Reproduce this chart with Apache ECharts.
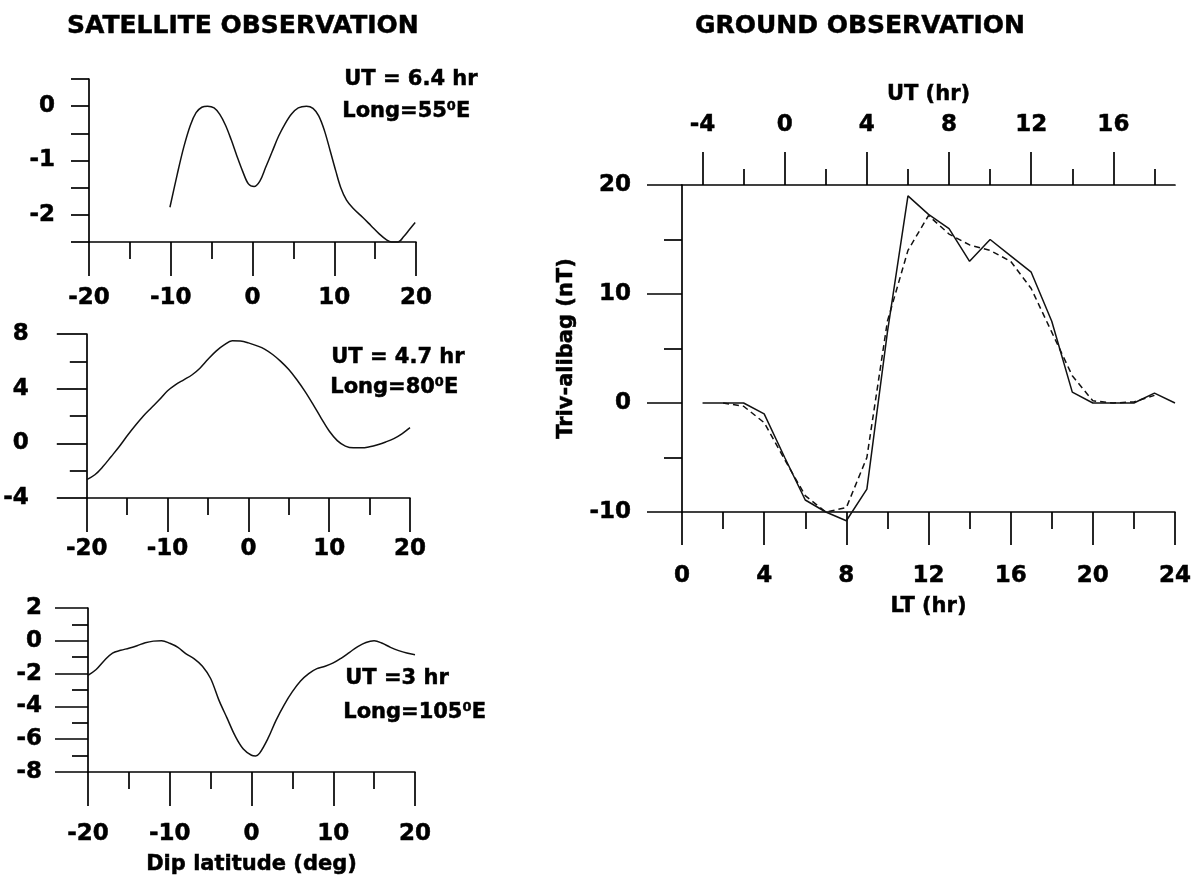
<!DOCTYPE html>
<html>
<head>
<meta charset="utf-8">
<script src="https://cdn.jsdelivr.net/npm/echarts@6/dist/echarts.min.js"></script>
<style>
  html, body { margin: 0; padding: 0; background: #fff; }
  #chart { width: 1196px; height: 883px; }
</style>
</head>
<body>
<div id="chart"></div>
<script>
// ---- Satellite observation: perturbation vs. dip latitude (deg) ----
// UT = 6.4 hr, Long = 55E
const lat55 = [-10.1, -9.2, -8.4, -7.6, -6.9, -6.2, -5.5, -4.7, -4.0, -3.3, -2.6, -1.9, -1.2, -0.5, 0.2, 0.9, 1.6, 2.4, 3.2, 4.0, 4.8, 5.6, 6.6, 7.4, 8.1, 8.8, 9.5, 10.2, 10.8, 11.5, 12.3, 13.5, 14.5, 15.5, 16.4, 17.0, 17.8, 18.5, 19.2, 19.9];
const val55 = [-1.86, -1.25, -0.75, -0.35, -0.12, -0.02, 0.0, -0.03, -0.15, -0.35, -0.62, -0.92, -1.2, -1.43, -1.48, -1.38, -1.13, -0.84, -0.55, -0.32, -0.14, -0.03, 0.0, -0.04, -0.18, -0.45, -0.82, -1.2, -1.5, -1.73, -1.88, -2.05, -2.2, -2.35, -2.46, -2.5, -2.5, -2.4, -2.27, -2.14];

// UT = 4.7 hr, Long = 80E
const lat80 = [-20, -19, -18, -17, -16, -15, -14, -13, -12, -11, -10, -9, -8, -7, -6, -5, -4, -3, -2, -1, 0, 1, 2, 3, 4, 5, 6, 7, 8, 9, 10, 11, 12, 13, 14, 15, 16, 17, 18, 19, 20];
const val80 = [-2.65, -2.3, -1.7, -0.98, -0.25, 0.55, 1.3, 2.0, 2.6, 3.2, 3.85, 4.3, 4.65, 5.0, 5.5, 6.15, 6.75, 7.2, 7.5, 7.48, 7.35, 7.15, 6.9, 6.5, 6.0, 5.4, 4.65, 3.8, 2.85, 1.85, 0.9, 0.2, -0.2, -0.33, -0.33, -0.25, -0.1, 0.1, 0.35, 0.7, 1.15];

// UT = 3 hr, Long = 105E
const lat105 = [-20, -19, -18, -17, -16, -15, -14, -13, -12, -11, -10, -9, -8, -7, -6, -5, -4, -3, -2, -1, 0, 0.5, 1, 2, 3, 4, 5, 6, 7, 8, 9, 10, 11, 12, 13, 14, 15, 16, 17, 18, 19, 20];
const val105 = [-2.1, -1.75, -1.2, -0.75, -0.58, -0.45, -0.3, -0.12, -0.02, 0.0, -0.15, -0.4, -0.8, -1.1, -1.55, -2.3, -3.6, -4.7, -5.8, -6.6, -6.98, -7.02, -6.85, -5.97, -4.85, -3.9, -3.1, -2.45, -2.0, -1.7, -1.55, -1.35, -1.05, -0.7, -0.35, -0.1, 0.0, -0.15, -0.4, -0.6, -0.75, -0.85];

// ---- Ground observation: Triv-alibag (nT) vs. LT (hr) ----
const ltSolid = [1, 2, 3, 4, 5, 6, 7, 8, 9, 10, 11, 12, 13, 14, 15, 16, 17, 18, 19, 20, 21, 22, 23, 24];
const trivSolid = [0, 0, 0, -1.0, -5.0, -8.9, -10.0, -10.8, -7.9, 6.5, 19.0, 17.3, 16.0, 13.0, 15.0, 13.5, 12.0, 7.5, 1.0, 0, 0, 0, 0.9, 0];
const ltDashed = [2, 3, 4, 5, 6, 7, 8, 9, 10, 11, 12, 13, 14, 15, 16, 17, 18, 19, 20, 21, 22, 23];
const trivDashed = [0, -0.3, -1.8, -5.2, -8.5, -10.0, -9.6, -5.0, 7.5, 14.0, 17.2, 15.5, 14.5, 14.0, 13.0, 10.5, 6.5, 2.5, 0.2, 0, 0.1, 0.7];

// Universal time on the top axis: UT = LT - 5
const utShift = 5;
const utMajor = [-4, 0, 4, 8, 12, 16];
const utMinor = [-2, 2, 6, 10, 14, 18];

const FONT = 'DejaVu Sans';
const INK = '#000';
const heavy = { textBorderColor: INK, textBorderWidth: 0.5 };
const tickText = Object.assign({ color: INK, fontFamily: FONT, fontWeight: 'bold', fontSize: 23 }, heavy);
const nameText = Object.assign({ color: INK, fontFamily: FONT, fontWeight: 'bold', fontSize: 21 }, heavy);
const titleText = Object.assign({ color: INK, fontFamily: FONT, fontWeight: 'bold', fontSize: 25 }, heavy);
const axisLine = { show: true, onZero: false, lineStyle: { color: INK, width: 1.7 } };
const tickStyle = { color: INK, width: 1.7 };

const pairs = (xs, ys) => xs.map((x, i) => [x, ys[i]]);

function latAxis(gridIndex, margin, extra) {
  return Object.assign({
    type: 'value', gridIndex, position: 'bottom',
    min: -20, max: 20, interval: 10,
    axisLine,
    axisTick: { show: true, length: 34, lineStyle: tickStyle },
    minorTick: { show: true, splitNumber: 2, length: 17, lineStyle: tickStyle },
    splitLine: { show: false }, minorSplitLine: { show: false },
    axisLabel: Object.assign({ margin }, tickText)
  }, extra || {});
}

function valAxis(gridIndex, opts) {
  return Object.assign({
    type: 'value', gridIndex, position: 'left',
    axisLine,
    splitLine: { show: false }, minorSplitLine: { show: false }
  }, opts);
}

function curve(xIdx, yIdx, xs, ys, smooth, dashed) {
  return {
    type: 'line', xAxisIndex: xIdx, yAxisIndex: yIdx,
    data: pairs(xs, ys), smooth: smooth ? 0.35 : false,
    showSymbol: false, silent: true, animation: false, clip: false,
    lineStyle: { color: '#111', width: 1.5, type: dashed ? [6, 4] : 'solid' }
  };
}

function note(left, top, text) {
  return {
    type: 'text', left, top,
    style: { text, fill: INK, font: 'bold 21px "DejaVu Sans"', stroke: INK, lineWidth: 0.5 }
  };
}

const option = {
  animation: false,
  backgroundColor: '#fff',
  title: [
    { text: 'SATELLITE OBSERVATION', left: 62, top: 9, textStyle: titleText },
    { text: 'GROUND OBSERVATION', left: 690, top: 9, textStyle: titleText }
  ],
  grid: [
    { left: 89, top: 79, width: 327, height: 163 },
    { left: 84, top: 334, width: 326, height: 164 },
    { left: 88, top: 608, width: 327, height: 164 },
    { left: 682, top: 185, width: 493, height: 327 }
  ],
  xAxis: [
    latAxis(0, 45),
    latAxis(1, 40),
    latAxis(2, 51, {
      name: 'Dip latitude (deg)', nameLocation: 'middle', nameGap: 82, nameTextStyle: nameText
    }),
    {
      type: 'value', gridIndex: 3, position: 'bottom',
      min: 0, max: 24, interval: 4,
      axisLine,
      axisTick: { show: true, length: 33, lineStyle: tickStyle },
      minorTick: { show: true, splitNumber: 2, length: 17, lineStyle: tickStyle },
      splitLine: { show: false }, minorSplitLine: { show: false },
      axisLabel: Object.assign({ margin: 53 }, tickText),
      name: 'LT (hr)', nameLocation: 'middle', nameGap: 84, nameTextStyle: nameText
    },
    {
      type: 'value', gridIndex: 3, position: 'top',
      min: 0 - utShift, max: 24 - utShift,
      axisLine,
      axisTick: { show: true, length: 33, lineStyle: tickStyle, customValues: utMajor },
      splitLine: { show: false },
      axisLabel: Object.assign({ margin: 48, customValues: utMajor }, tickText),
      name: 'UT (hr)', nameLocation: 'middle', nameGap: 80, nameTextStyle: nameText
    },
    {
      type: 'value', gridIndex: 3, position: 'top',
      min: 0 - utShift, max: 24 - utShift,
      axisLine: { show: false, onZero: false },
      axisTick: { show: true, length: 16, lineStyle: tickStyle, customValues: utMinor },
      splitLine: { show: false },
      axisLabel: { show: false }
    }
  ],
  yAxis: [
    valAxis(0, {
      min: -2.5, max: 0.5, interval: 0.5,
      axisTick: { show: true, length: 18, lineStyle: tickStyle },
      axisLabel: Object.assign({ margin: 34, formatter: v => (Number.isInteger(v) ? String(v) : '') }, tickText)
    }),
    valAxis(1, {
      min: -4, max: 8, interval: 4,
      axisTick: { show: true, length: 30, lineStyle: tickStyle },
      minorTick: { show: true, splitNumber: 2, length: 17, lineStyle: tickStyle },
      axisLabel: Object.assign({ margin: 58 }, tickText)
    }),
    valAxis(2, {
      min: -8, max: 2, interval: 2,
      axisTick: { show: true, length: 33, lineStyle: tickStyle },
      minorTick: { show: true, splitNumber: 2, length: 16, lineStyle: tickStyle },
      axisLabel: Object.assign({ margin: 46 }, tickText)
    }),
    valAxis(3, {
      min: -10, max: 20, interval: 10,
      axisTick: { show: true, length: 35, lineStyle: tickStyle },
      minorTick: { show: true, splitNumber: 2, length: 18, lineStyle: tickStyle },
      axisLabel: Object.assign({ margin: 51 }, tickText),
      name: 'Triv-alibag (nT)', nameLocation: 'middle', nameGap: 105, nameTextStyle: nameText
    })
  ],
  series: [
    curve(0, 0, lat55, val55, true, false),
    curve(1, 1, lat80, val80, true, false),
    curve(2, 2, lat105, val105, true, false),
    curve(3, 3, ltSolid, trivSolid, false, false),
    curve(3, 3, ltDashed, trivDashed, false, true)
  ],
  graphic: [
    note(344, 69, 'UT = 6.4 hr'),
    note(342, 101, 'Long=55\u2070E'),
    note(331, 347, 'UT = 4.7 hr'),
    note(330, 377, 'Long=80\u2070E'),
    note(345, 668, 'UT =3 hr'),
    note(343, 702, 'Long=105\u2070E')
  ]
};

const chart = echarts.init(document.getElementById('chart'), null, { renderer: 'canvas' });
chart.setOption(option);
</script>
</body>
</html>
